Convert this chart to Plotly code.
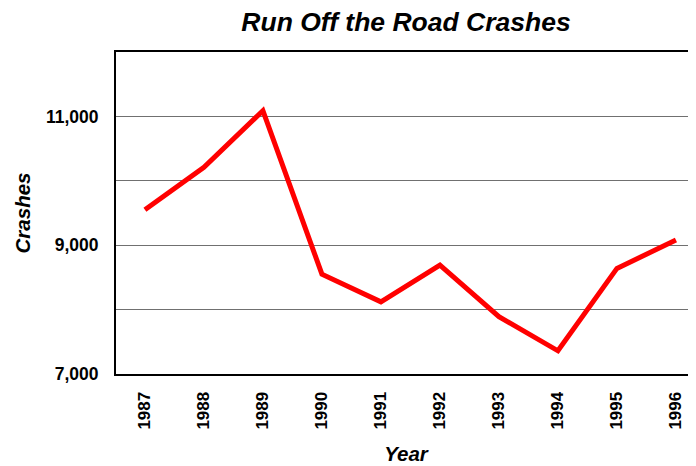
import plotly.graph_objects as go

years = ["1987", "1988", "1989", "1990", "1991", "1992", "1993", "1994", "1995", "1996"]
crashes = [9550, 10210, 11090, 8550, 8120, 8690, 7890, 7360, 8640, 9080]
ytick_vals = [7000, 8000, 9000, 10000, 11000, 12000]
ytick_text = ["7,000", "", "9,000", "", "11,000", ""]

FONT = "Liberation Sans, Arial, sans-serif"

fig = go.Figure(go.Scatter(x=years, y=crashes, mode="lines",
                           line=dict(color="#ff0000", width=5)))

fig.update_layout(
    width=688, height=458,
    margin=dict(l=108, r=0, t=44, b=92),
    paper_bgcolor="white", plot_bgcolor="white",
    showlegend=False,
    font=dict(family=FONT, color="black"),
    title=dict(text="<b><i>Run Off the Road Crashes</i></b>", x=0.5, xref="paper",
               y=0.969, yref="container", xanchor="center", yanchor="middle",
               font=dict(size=26.5, family=FONT)),
)
fig.update_xaxes(
    type="category", range=[-0.49, 9.34],
    showline=True, linecolor="black", linewidth=2, mirror=True,
    showgrid=False, ticks="", tickangle=-90, ticklabelstandoff=9,
    tickfont=dict(size=17, family=FONT),
    tickprefix="<b>", ticksuffix="</b>",
    title=dict(text="<b><i>Year</i></b>", font=dict(size=20.5, family=FONT), standoff=18),
)
fig.update_yaxes(
    range=[7000, 12000], tickvals=ytick_vals, ticktext=["<b>%s</b>" % t if t else "" for t in ytick_text],
    showline=True, linecolor="black", linewidth=2,
    showgrid=True, gridcolor="#707070", gridwidth=1.3,
    ticks="outside", ticklen=12, tickcolor="rgba(0,0,0,0)",
    tickfont=dict(size=17.5, family=FONT),
    title=dict(text="<b><i>Crashes</i></b>", font=dict(size=20.5, family=FONT), standoff=10),
)

fig.write_html("out.html")
